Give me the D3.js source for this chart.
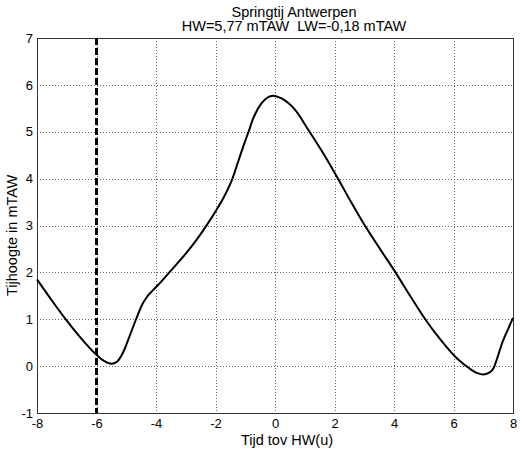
<!DOCTYPE html>
<html><head><meta charset="utf-8">
<script src="https://cdn.jsdelivr.net/npm/d3@7"></script>
<style>
body{margin:0;background:#fff;}
text{font-family:"Liberation Sans",Arial,sans-serif;fill:#000;}
</style></head>
<body><svg id="c" width="525" height="451"></svg>
<script>
const hours = [-8.0,-7.5,-7.0,-6.5,-6.0,-5.75,-5.5,-5.3,-5.1,-4.9,-4.67,-4.45,-4.3,-4.1,-3.8,-3.58,-3.0,-2.70,-2.25,-2.0,-1.69,-1.43,-1.24,-1.01,-0.90,-0.73,-0.45,-0.06,0.22,0.67,1.14,1.64,2.09,2.54,3.0,3.55,4.06,4.55,5.05,5.57,6.14,6.58,6.8,7.0,7.2,7.35,7.5,7.65,7.82,8.0];
const levels = [1.85,1.40,0.97,0.58,0.24,0.11,0.05,0.10,0.30,0.62,1.00,1.33,1.48,1.62,1.82,1.98,2.40,2.64,3.05,3.30,3.64,4.00,4.36,4.79,4.98,5.29,5.61,5.77,5.71,5.47,5.02,4.52,4.03,3.52,3.02,2.48,1.99,1.49,1.00,0.56,0.15,-0.07,-0.15,-0.18,-0.14,-0.04,0.23,0.52,0.77,1.03];
const xTicks = [-8,-6,-4,-2,0,2,4,6,8];
const yTicks = [-1,0,1,2,3,4,5,6,7];
const markerHour = [-6];
const titleLines = ["Springtij Antwerpen","HW=5,77 mTAW  LW=-0,18 mTAW"];
const xLabel = "Tijd tov HW(u)";
const yLabel = "Tijhoogte in mTAW";

const L=37,R=513,T=38,B=413;
const svg=d3.select("#c");
const x=d3.scaleLinear().domain([-8,8]).range([L,R]);
const y=d3.scaleLinear().domain([-1,7]).range([B,T]);

// grid
const g=svg.append("g");
g.selectAll(".gx").data(xTicks.slice(1,-1)).join("line")
 .attr("x1",d=>Math.round(x(d))+0.5).attr("x2",d=>Math.round(x(d))+0.5).attr("y1",T).attr("y2",B)
 .attr("stroke","#666").attr("stroke-width",1).attr("stroke-dasharray","1,2");
g.selectAll(".gy").data(yTicks.slice(1,-1)).join("line")
 .attr("y1",d=>Math.round(y(d))+0.5).attr("y2",d=>Math.round(y(d))+0.5).attr("x1",L).attr("x2",R)
 .attr("stroke","#666").attr("stroke-width",1).attr("stroke-dasharray","1,2");

// axes via d3
const xa=svg.append("g").attr("transform",`translate(0,${B})`)
 .call(d3.axisBottom(x).tickValues(xTicks).tickSize(0).tickPadding(6).tickFormat(d=>String(d)));
const ya=svg.append("g").attr("transform",`translate(${L},0)`)
 .call(d3.axisLeft(y).tickValues(yTicks).tickSize(0).tickPadding(4).tickFormat(d=>String(d)));
[xa,ya].forEach(a=>{a.select(".domain").remove();a.selectAll("text").style("font-size","13px").style("font-family","Liberation Sans, Arial, sans-serif");});

// box
svg.append("rect").attr("x",L+0.5).attr("y",T+0.5).attr("width",R-L).attr("height",B-T)
 .attr("fill","none").attr("stroke","#333").attr("stroke-width",1);

// marker line
svg.selectAll(".mk").data(markerHour).join("line")
 .attr("x1",d=>x(d)).attr("x2",d=>x(d)).attr("y1",T).attr("y2",B)
 .attr("stroke","#000").attr("stroke-width",3).attr("stroke-dasharray","7,3");

// curve
const pts=hours.map((h,i)=>[h,levels[i]]);
svg.append("path").datum(pts)
 .attr("d",d3.line().x(d=>x(d[0])).y(d=>y(d[1])).curve(d3.curveMonotoneX))
 .attr("fill","none").attr("stroke","#000").attr("stroke-width",2);

// titles
svg.selectAll(".tt").data(titleLines).join("text")
 .attr("x",294).attr("y",(d,i)=>16.5+i*14.5).attr("text-anchor","middle")
 .style("font-size","14.5px").style("white-space","pre").text(d=>d);
svg.append("text").attr("x",287).attr("y",444.5).attr("text-anchor","middle").style("font-size","14.5px").text(xLabel);
svg.append("text").attr("transform",`translate(17,235.5) rotate(-90)`).attr("text-anchor","middle").style("font-size","14.5px").text(yLabel);
</script></body></html>
